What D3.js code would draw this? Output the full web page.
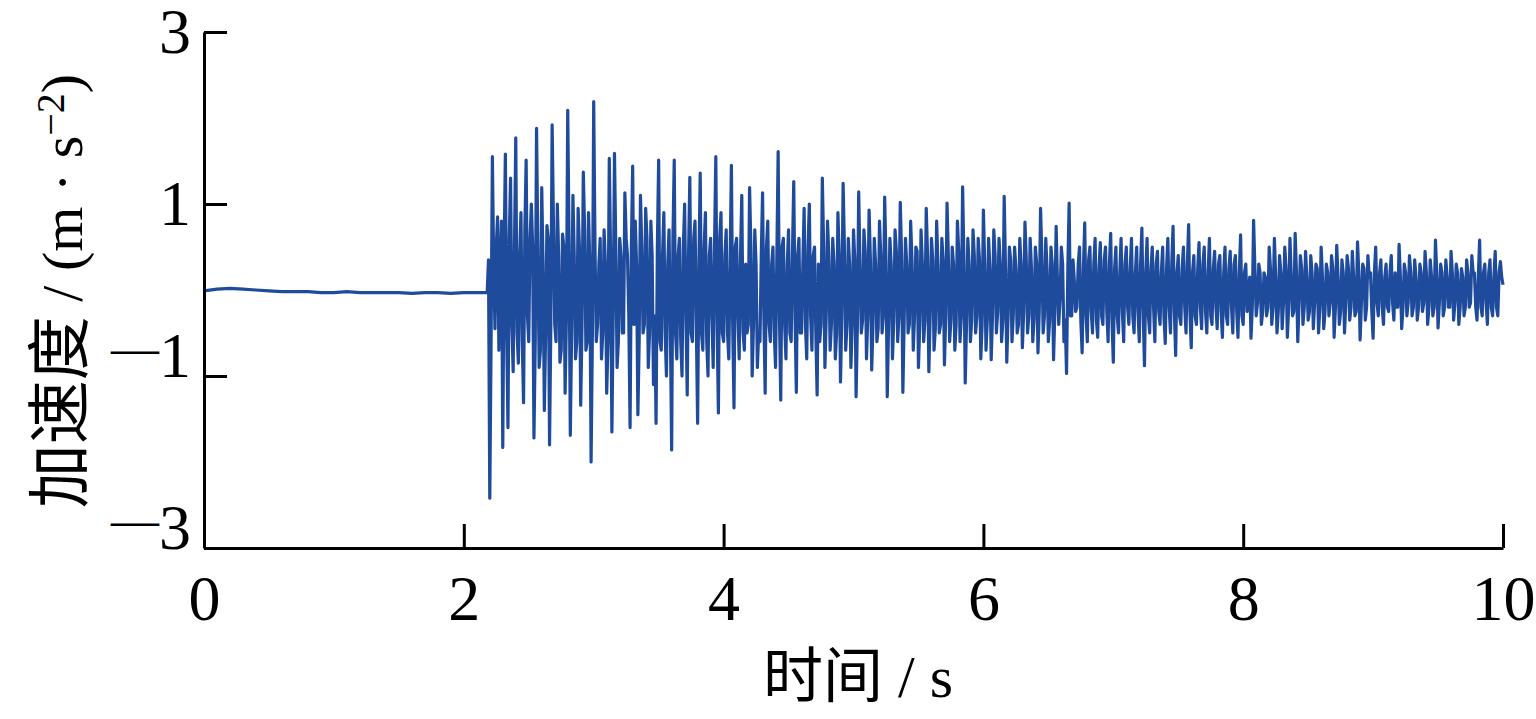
<!DOCTYPE html>
<html>
<head>
<meta charset="utf-8">
<script src="https://cdn.jsdelivr.net/npm/d3@7"></script>
<style>
  body { margin: 0; background: #fff; }
  svg { display: block; }
  text { font-family: "Liberation Serif", "Times New Roman", "Noto Sans CJK SC", serif; fill: #000; }
</style>
</head>
<body>
<div id="chart"></div>
<script>
// quiet part before the excitation, sampled every 0.1 s from t = 0
const quietStart = 0;
const quietStep = 0.1;
const quietValues = [
  -0.01, 0.01, 0.02, 0.01, 0.0, -0.01, -0.02, -0.02, -0.02, -0.03, -0.03, -0.02,
  -0.03, -0.03, -0.03, -0.03, -0.04, -0.03, -0.03, -0.04, -0.03, -0.03
];

// vibration record from t = 2.18: samples on the 0.02 s grid ...
const signalStart = 2.18;
const signalStep = 0.02;
const signalValues = [
  // 2.18 - 3.0 s
  -0.03, -2.42, 1.55, -0.45, 0.85, 0.3, -1.83, 1.58, -1.6, 1.30, -0.95, 1.77,
  -0.85, 0.9, -1.31, 1.51, -0.6, 1.0, -1.72, 1.88, -0.9, 1.19, -1.40, 0.75,
  -1.80, 1.92, -0.4, 1.0, -0.84, 0.65, -1.2, 2.09, -1.69, 1.1, -0.8, 0.95,
  -1.34, 1.37, -0.7, 0.9, -2.0, 2.19,
  // 3.0 - 4.0 s
  -0.6, 0.3, -0.8, 0.7, -1.2, 1.53, -1.65, 1.59, -0.9, 0.6, -0.5, 1.13,
  0.4, -1.6, 1.44, 0.8, -1.45, 1.1, -0.5, 0.95, -0.9, 0.8, -1.1, -1.55,
  1.51, -0.7, 0.9, -1.0, 0.7, -1.86, 1.51, -0.8, 0.6, -1.0, 1.0, -1.22,
  1.31, -0.6, 0.8, -1.55, 1.36, -0.7, 0.9, -1.0, 0.6, -0.9, 1.55, -1.43,
  0.9, -0.6,
  // 4.0 - 5.0 s
  0.7, -0.8, 1.45, -1.37, 0.6, -0.8, 1.1, -0.7, -0.5, 1.19, -1.0, 0.7,
  -0.9, -0.6, 1.13, -1.2, 0.8, -0.6, 0.5, -0.9, 1.61, -1.28, 0.6, -0.8,
  0.7, -0.6, 1.26, -1.19, 0.6, -0.5, 0.95, -0.8, 1.0, -0.7, 0.5, -1.22,
  -0.6, 1.30, -0.9, 0.8, -0.7, 0.6, -0.8, 0.9, -1.07, 1.24, -0.7, 0.6,
  -0.9, 0.7,
  // 5.0 - 6.0 s
  -1.24, 1.14, -0.5, 0.7, -0.8, 0.93, -0.93, 0.6, -0.6, 0.8, -0.5, 1.08,
  -1.24, 0.6, -0.8, 0.7, -0.6, 1.02, -1.19, 0.6, -0.5, 0.8, -0.7, 0.5,
  -0.9, 0.7, -0.6, 0.95, -0.95, 0.6, -0.7, 0.8, -0.5, 0.6, -0.87, 1.01,
  -0.6, 0.5, -0.7, 0.8, -0.6, 1.2, -1.08, 0.6, -0.6, 0.7, -0.5, 0.6,
  -0.8, 0.93,
  // 6.0 - 7.0 s
  -0.7, 0.6, -0.81, 0.7, -0.5, 0.6, -0.6, 1.09, -0.84, 0.5, -0.6, 0.5,
  -0.5, 0.6, -0.67, 0.79, -0.5, 0.6, -0.6, 0.5, -0.73, 0.95, -0.5, 0.6,
  -0.6, 0.5, -0.81, 0.74, -0.4, 0.5, -0.6, -0.97, 1.01, -0.3, 0.1, -0.2,
  0.5, -0.73, 0.78, -0.6, 0.5, -0.5, 0.6, -0.55, 0.55, -0.4, 0.5, -0.6,
  0.66, -0.84,
  // 7.0 - 8.0 s
  0.5, -0.5, 0.6, -0.6, 0.5, -0.4, 0.6, -0.5, 0.5, -0.6, 0.72, -0.88,
  0.6, -0.5, 0.5, -0.6, 0.45, -0.4, 0.5, -0.62, 0.6, -0.5, 0.74, -0.76,
  0.4, -0.4, 0.5, -0.5, 0.76, -0.67, 0.4, -0.4, 0.55, -0.45, 0.5, -0.5,
  0.6, -0.4, 0.45, -0.45, 0.4, -0.55, 0.5, -0.4, 0.45, -0.5, 0.4, -0.55,
  0.64, -0.4,
  // 8.0 - 9.0 s
  0.3, -0.1, -0.56, 0.81, -0.3, 0.3, -0.4, 0.2, -0.3, 0.5, -0.4, 0.6,
  -0.5, 0.4, -0.45, 0.5, -0.55, 0.6, -0.3, 0.66, -0.6, 0.4, -0.4, 0.45,
  -0.35, 0.4, -0.45, 0.3, -0.5, 0.5, -0.45, 0.3, -0.3, 0.4, -0.55, 0.52,
  -0.4, 0.35, -0.5, 0.4, -0.35, 0.45, -0.3, 0.56, -0.58, 0.3, -0.35, 0.4,
  0.2, -0.56,
  // 9.0 - 10.0 s
  0.5, -0.3, 0.35, -0.4, 0.3, -0.25, 0.4, -0.35, -0.2, 0.53, -0.45, 0.3,
  -0.3, 0.4, -0.3, 0.35, -0.35, 0.3, -0.25, 0.45, -0.4, 0.35, -0.3, 0.58,
  -0.44, 0.3, -0.3, 0.35, -0.2, 0.45, -0.35, 0.3, -0.4, 0.25, -0.3, 0.35,
  -0.2, 0.4, 0.2, -0.35, 0.58, -0.3, 0.3, -0.4, 0.35, -0.3, 0.45, -0.3,
  0.33, 0.06
];

// ... and the samples that fall halfway between them
const signalValuesMid = [
  // 2.18 - 3.0 s
  0.35, -0.6, 0.3, 0.5, -0.7, 0.8, 0.4, -0.5, 0.6, -0.4, 0.5, -0.5, 0.4, -0.6,
  0.7, -0.3, 0.6, 0.5, -0.6, 0.5, -0.7, 0.3, -0.5, 0.6, -0.4, 0.8, -0.6, 0.4,
  -0.7, 0.5, -0.3, 0.6, -0.5, 0.4, -0.6, 0.5, -0.4, 0.7, -0.6, 0.3, -0.5,
  // 3.0 - 4.0 s
  0.5, -0.4, 0.6, -0.5, 0.3, -0.6, 0.4, -0.3, 0.5, -0.6,
  0.4, -0.5, 0.6, -0.3, 0.5, -0.4, 0.3, -0.6, 0.5, -0.4,
  0.6, -0.5, 0.4, -0.3, 0.5, -0.6, 0.4, -0.5, 0.3, -0.4,
  0.6, -0.5, 0.4, -0.6, 0.5, -0.3, 0.4, -0.5, 0.6, -0.4,
  0.3, -0.5, 0.5, -0.6, 0.4, -0.3, 0.5, -0.4, 0.6, -0.5,
  // 4.0 - 5.0 s
  0.4, -0.5, 0.3, -0.4, 0.5, -0.3, 0.4, -0.5, 0.3, -0.4,
  0.5, -0.4, 0.3, -0.5, 0.4, -0.3, 0.5, -0.4, 0.3, -0.5,
  0.4, -0.3, 0.5, -0.4, 0.3, -0.5, 0.4, -0.3, 0.4, -0.5,
  0.3, -0.4, 0.5, -0.3, 0.4, -0.5, 0.3, -0.4, 0.5, -0.3,
  0.4, -0.4, 0.3, -0.5, 0.4, -0.3, 0.5, -0.4, 0.3, -0.4,
  // 5.0 - 6.0 s
  0.35, -0.4, 0.3, -0.35, 0.45, -0.3, 0.35, -0.4, 0.3, -0.45,
  0.4, -0.3, 0.35, -0.4, 0.3, -0.35, 0.45, -0.3, 0.4, -0.35,
  0.3, -0.4, 0.35, -0.3, 0.45, -0.4, 0.3, -0.35, 0.4, -0.3,
  0.35, -0.45, 0.3, -0.4, 0.35, -0.3, 0.4, -0.35, 0.3, -0.4,
  0.45, -0.3, 0.35, -0.4, 0.3, -0.35, 0.4, -0.3, 0.35, -0.4,
  // 6.0 - 7.0 s
  0.3, -0.35, 0.25, -0.3, 0.4, -0.25, 0.3, -0.35, 0.25, -0.3,
  0.35, -0.3, 0.25, -0.4, 0.3, -0.25, 0.35, -0.3, 0.25, -0.35,
  0.3, -0.25, 0.4, -0.3, 0.25, -0.35, 0.3, -0.25, 0.1, -0.1,
  0.3, -0.35, 0.25, -0.3, 0.35, -0.25, 0.3, -0.35, 0.25, -0.3,
  0.35, -0.25, 0.3, -0.35, 0.25, -0.3, 0.35, -0.25, 0.3, -0.35,
  // 7.0 - 8.0 s
  0.25, -0.3, 0.2, -0.25, 0.3, -0.2, 0.25, -0.3, 0.2, -0.25,
  0.3, -0.25, 0.2, -0.3, 0.25, -0.2, 0.3, -0.25, 0.2, -0.3,
  0.25, -0.2, 0.3, -0.25, 0.2, -0.3, 0.25, -0.2, 0.3, -0.25,
  0.2, -0.3, 0.25, -0.2, 0.3, -0.25, 0.2, -0.3, 0.25, -0.2,
  0.3, -0.25, 0.2, -0.3, 0.25, -0.2, 0.3, -0.25, 0.2, -0.3,
  // 8.0 - 9.0 s
  0.2, -0.25, 0.15, -0.2, 0.25, -0.15, 0.2, -0.25, 0.15, -0.2,
  0.25, -0.2, 0.15, -0.25, 0.2, -0.15, 0.25, -0.2, 0.15, -0.25,
  0.2, -0.15, 0.25, -0.2, 0.15, -0.25, 0.2, -0.15, 0.25, -0.2,
  0.15, -0.25, 0.2, -0.15, 0.25, -0.2, 0.15, -0.25, 0.2, -0.15,
  0.25, -0.2, 0.15, -0.25, 0.2, -0.15, 0.25, -0.2, 0.15, -0.25,
  // 9.0 - 10.0 s
  0.2, -0.15, 0.2, -0.2, 0.15, -0.2, 0.2, -0.15, 0.2, -0.2,
  0.15, -0.2, 0.2, -0.15, 0.2, -0.2, 0.15, -0.2, 0.2, -0.15,
  0.2, -0.2, 0.15, -0.2, 0.2, -0.15, 0.2, -0.2, 0.15, -0.2,
  0.2, -0.15, 0.2, -0.2, 0.15, -0.2, 0.2, -0.15, 0.2, -0.2,
  0.15, -0.2, 0.2, -0.15, 0.2, -0.2, 0.15, -0.2, 0.2, 0.15
];

const xTicks = [0, 2, 4, 6, 8, 10];
const yTicks = [-3, -1, 1, 3];
const xTitle = "时间 / s";
const yTitleCJK = "加速度";
const yTitleUnit = " / (m · s";
const yTitleSup = "\u22122";

const width = 1536;
const height = 719;

const points = quietValues.map((v, i) => ({ t: quietStart + i * quietStep, v }));
signalValues.forEach((v, i) => {
  points.push({ t: signalStart + i * signalStep, v });
  if (i < signalValuesMid.length) {
    points.push({ t: signalStart + (i + 0.5) * signalStep, v: signalValuesMid[i] });
  }
});

const x = d3.scaleLinear().domain([0, 10]).range([204, 1503]);
const y = d3.scaleLinear().domain([-3, 3]).range([548, 32]);

const svg = d3.select("#chart")
  .append("svg")
  .attr("width", width)
  .attr("height", height);

const line = d3.line()
  .x((d) => x(d.t))
  .y((d) => y(d.v));

svg.append("path")
  .datum(points)
  .attr("fill", "none")
  .attr("stroke", "#1f4b9c")
  .attr("stroke-width", 3.2)
  .attr("stroke-linejoin", "round")
  .attr("d", line);

const yAxis = svg.append("g")
  .attr("transform", `translate(${x(0)},0)`)
  .call(d3.axisLeft(y).tickValues(yTicks).tickFormat((d) => String(Math.abs(d)))
    .tickSize(-23).tickSizeOuter(0).tickPadding(13));

const xAxis = svg.append("g")
  .attr("transform", `translate(0,${y(-3)})`)
  .call(d3.axisBottom(x).tickValues(xTicks).tickFormat(d3.format("d"))
    .tickSize(-24).tickSizeOuter(0).tickPadding(27));

[xAxis, yAxis].forEach((g) => {
  g.select(".domain").attr("stroke", "#000").attr("stroke-width", 3);
  g.selectAll(".tick line").attr("stroke", "#000").attr("stroke-width", 3);
  g.selectAll(".tick text")
    .attr("font-family", null)
    .style("font-size", "64px")
    .attr("fill", "#000");
});

// long dash in front of the negative labels, as in the original
yAxis.selectAll(".tick text")
  .filter((d) => d < 0)
  .each(function (d) {
    const t = d3.select(this);
    t.text(null);
    t.append("tspan").attr("dy", -13).style("font-size", "48px").text("\u2014");
    t.append("tspan").attr("dy", 13).text(Math.abs(d));
  });

svg.append("text")
  .attr("x", 858)
  .attr("y", 697)
  .attr("text-anchor", "middle")
  .style("font-size", "60px")
  .text(xTitle);

const yt = svg.append("text")
  .attr("transform", "translate(82,291) rotate(-90)")
  .attr("text-anchor", "middle")
  .style("font-size", "58px");
yt.append("tspan").style("font-size", "64px").text(yTitleCJK);
yt.append("tspan").text(yTitleUnit);
yt.append("tspan")
  .attr("dy", "-0.45em")
  .style("font-size", "40px")
  .text(yTitleSup);
yt.append("tspan")
  .attr("dy", "0.3em")
  .text(")");
</script>
</body>
</html>
